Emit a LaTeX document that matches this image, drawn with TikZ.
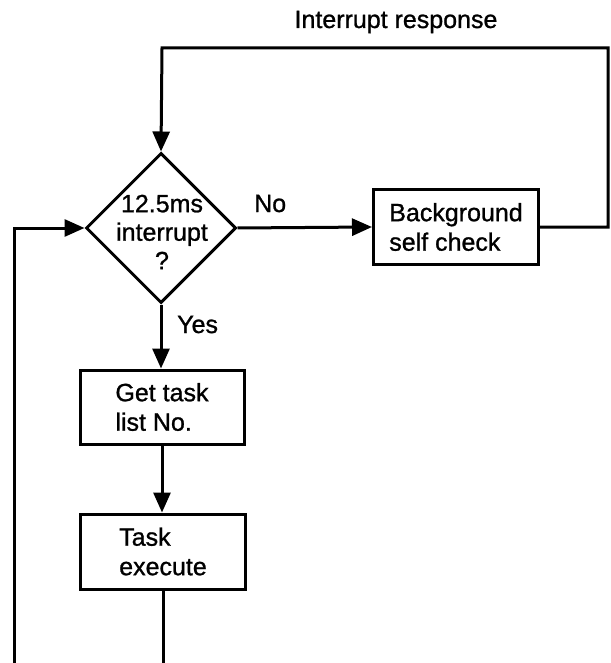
\documentclass[tikz,border=0pt]{standalone}
\usepackage{fontspec}
\setmainfont{Liberation Sans}[FakeBold=1]
\usetikzlibrary{arrows.meta,shapes.geometric}
\tikzset{
  flow/.style={line width=3pt},
  arr/.style={flow,-{Triangle[length=20pt,width=17pt]}},
  stepbox/.style={draw,line width=3pt,minimum width=165pt,minimum height=75pt,
    align=left,inner sep=0pt,font=\fontsize{25}{29.5}\selectfont},
  decision/.style={draw,diamond,aspect=1,line width=3pt,minimum width=150pt,
    minimum height=150pt,inner sep=0pt},
  txt/.style={font=\fontsize{25}{28.5}\selectfont,inner sep=0pt}
}
\begin{document}
\begin{tikzpicture}[x=1pt,y=-1pt]
\useasboundingbox (0,0) rectangle (610,663);
% decision and process boxes
\node[decision] (dec) at (161,228) {};
\node[txt,align=center] (dectext) at (162,232) {12.5ms\\interrupt\\?};
\node[stepbox] (bg) at (456,227) {Background\\self check};
\node[stepbox,minimum width=164pt,minimum height=74pt] (get) at (162,407) {Get task\\list No.};
\node[stepbox] (exec) at (163,551.5) {Task\\execute};
% branch labels
\node[txt,anchor=base west] (no) at (254,212) {No};
\node[txt,anchor=base west] (yes) at (177,333) {Yes};
\node[txt,anchor=base] (irq) at (396,28) {Interrupt response};
% loop corners and open ends
\coordinate (tr) at (608,48);
\coordinate (tl) at (162,48);
\coordinate (bl) at (14,663);
\coordinate (bm) at (163,663);
% connectors
\draw[arr] (bg.east) -- (bg.east -| tr) -- (tr) -- (tl) -- (dec.north);
\draw[arr] (dec.east) -- (bg.west);
\draw[arr] (dec.south) -- (get.north -| dec.south);
\draw[arr] (get.south) -- (exec.north -| get.south);
\draw[flow] (exec.south) -- (bm);
\draw[arr] (bl) -- (bl |- dec.west) -- (dec.west);
\end{tikzpicture}
\end{document}
